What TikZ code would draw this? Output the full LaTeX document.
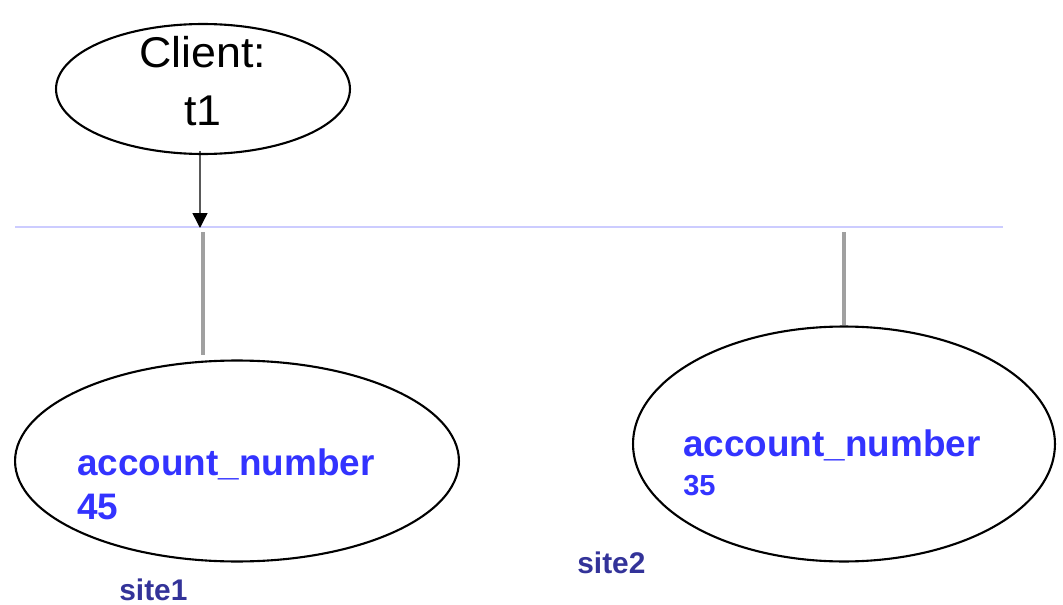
\documentclass[tikz,border=0pt]{standalone}
\usepackage{fontspec}
\setmainfont{Liberation Sans}
\newfontfamily\wideface[FakeStretch=1.04]{Liberation Sans}
\usetikzlibrary{shapes.geometric,arrows.meta}
\definecolor{acctblue}{RGB}{51,51,255}
\definecolor{sitenavy}{RGB}{51,51,153}
\definecolor{buslav}{RGB}{204,204,255}
\definecolor{dropgray}{RGB}{160,160,160}
\tikzset{
  site/.style={ellipse,draw=black,line width=1.2pt,inner sep=0pt},
  acct/.style={anchor=base west,inner sep=0pt,text=acctblue,font=\bfseries\fontsize{21}{21}\selectfont},
  sitelabel/.style={anchor=base west,inner sep=0pt,text=sitenavy,font=\bfseries\fontsize{17}{17}\selectfont},
  drop/.style={draw=dropgray,line width=1.8pt}
}

\begin{document}
\begin{tikzpicture}[x=0.02cm,y=-0.02cm]
	\useasboundingbox (0,0) rectangle (1063,605);
	% client and bus
	\node[site,minimum width=5.88cm,minimum height=2.6cm] (client) at (203,89) {};
	\node[anchor=base,inner sep=0pt,font=\wideface\fontsize{24.5}{24.5}\selectfont] (clienta) at (203,68) {Client:};
	\node[anchor=base,inner sep=0pt,font=\wideface\fontsize{24.5}{24.5}\selectfont] (clientb) at (203,125) {t1};
	\coordinate (busw) at (15,227);
	\coordinate (buse) at (1003,227);
	\coordinate (bustap) at (200,228);
	\draw [buslav,line width=1.2pt] (busw) -- (buse);
	\draw [-{Triangle[width=0.3cm,length=0.3cm]},line width=0.8pt] ([xshift=-0.06cm,yshift=0.08cm]client.south) -- (bustap);
	% site 1
	\node[site,minimum width=8.88cm,minimum height=4.02cm] (db1) at (237,461) {};
	\coordinate (drop1a) at (203,232);
	\coordinate (drop1b) at (203,355);
	\draw [drop] (drop1a) -- (drop1b);
	\node[acct] (acc1) at (77,475) {account\_number};
	\node[acct] (num1) at (77,519) {45};
	\node[sitelabel] (site1) at (119,600) {site1};
	% site 2
	\node[site,minimum width=8.44cm,minimum height=4.7cm] (db2) at (844,444) {};
	\coordinate (drop2a) at (844,232);
	\draw [drop] (drop2a) -- (db2.north);
	\node[acct] (acc2) at (683,456) {account\_number};
	\node[acct,font=\bfseries\fontsize{16.5}{16.5}\selectfont] (num2) at (683,495) {35};
	\node[sitelabel] (site2) at (577,573) {site2};
\end{tikzpicture}
\end{document}
